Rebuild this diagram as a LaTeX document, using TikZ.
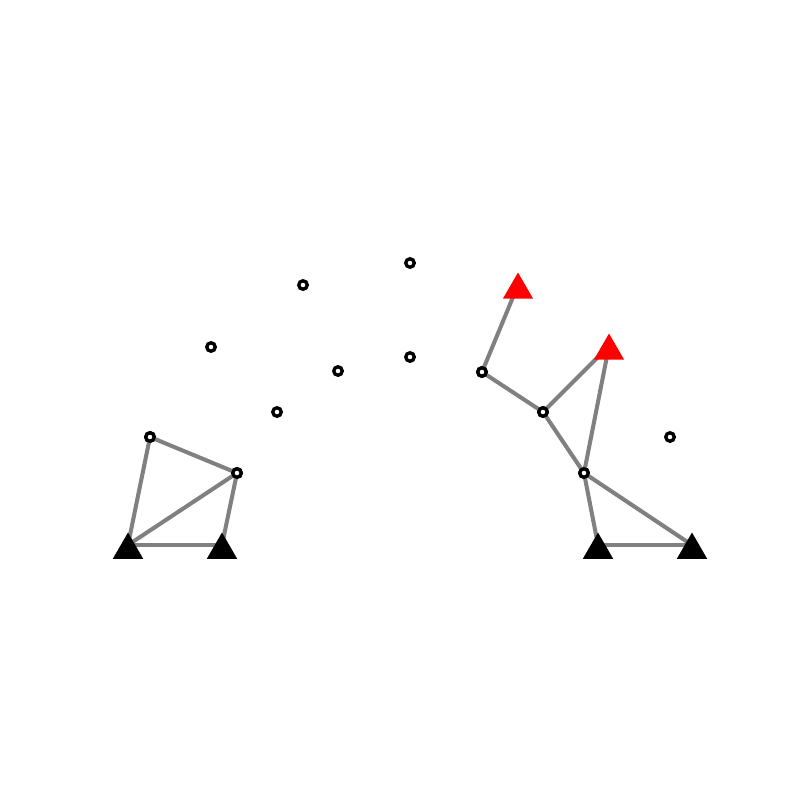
\documentclass[tikz,border=0pt]{standalone}
\usepackage{tikz}
\usetikzlibrary{shapes.geometric}

\tikzset{
  joint/.style={circle,draw=black,fill=white,line width=1.9pt,inner sep=0pt,outer sep=0pt,minimum size=0.17cm},
  ground/.style={regular polygon,regular polygon sides=3,fill=black,inner sep=0pt,outer sep=0pt,minimum size=0.70cm,yshift=-0.1cm},
  anchorred/.style={ground,fill=red},
  bar/.style={draw=gray,line width=2.3pt}
}

\begin{document}
\begin{tikzpicture}[x=0.02cm,y=-0.02cm]
\useasboundingbox (0,0) rectangle (800,800);

% support points
\coordinate (gl1) at (128,545); \coordinate (gl2) at (222,545);
\coordinate (gr1) at (598,545); \coordinate (gr2) at (692,545);
\coordinate (r1) at (518,285); \coordinate (r2) at (609,346);

% free joints
\node[joint] (p1) at (410,263) {}; \node[joint] (p2) at (303,285) {};
\node[joint] (p3) at (211,347) {}; \node[joint] (p4) at (338,371) {};
\node[joint] (p5) at (410,357) {}; \node[joint] (p6) at (277,412) {};
\node[joint] (p7) at (670,437) {};

% left truss
\node[joint] (l1) at (150,437) {}; \node[joint] (l2) at (237,473) {};
\draw[bar] (gl1) -- (gl2); \draw[bar] (gl1) -- (l1); \draw[bar] (gl1) -- (l2);
\draw[bar] (l1) -- (l2); \draw[bar] (gl2) -- (l2);

% right chain
\node[joint] (c1) at (482,372) {}; \node[joint] (c2) at (543,412) {};
\node[joint] (c3) at (584,473) {};
\draw[bar] (r1) -- (c1); \draw[bar] (c1) -- (c2); \draw[bar] (c2) -- (r2);
\draw[bar] (c2) -- (c3); \draw[bar] (r2) -- (c3);
\draw[bar] (c3) -- (gr1); \draw[bar] (c3) -- (gr2); \draw[bar] (gr1) -- (gr2);

% supports on top
\foreach \g in {gl1,gl2,gr1,gr2} \node[ground] at (\g) {};
\foreach \g in {r1,r2} \node[anchorred] at (\g) {};
\foreach \j in {l1,l2,c1,c2,c3} \node[joint] at (\j) {};

\end{tikzpicture}
\end{document}
